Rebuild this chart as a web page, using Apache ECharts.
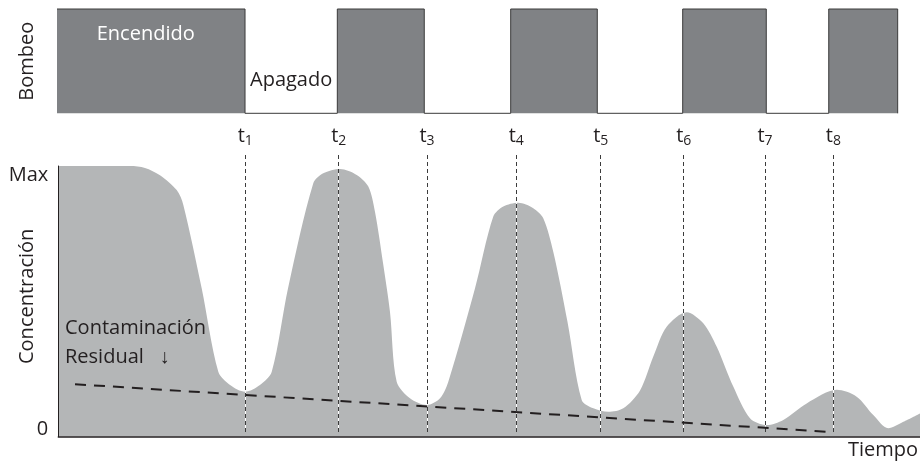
<!DOCTYPE html>
<html><head><meta charset="utf-8">
<script src="https://cdn.jsdelivr.net/npm/echarts@6/dist/echarts.min.js"></script>
<style>html,body{margin:0;padding:0;background:#fff}#c{width:920px;height:462px}</style>
</head><body><div id="c"></div>
<script>
// ---- data (time in arbitrary units 0..100, concentration 0..100 = Max) ----
const pumpOnStart = [-0.46, 32.38, 52.50, 72.46, 89.41];
const pumpOnEnd   = [21.67, 42.47, 62.55, 82.16, 97.41];
const tNames = ['1', '2', '3', '4', '5', '6', '7', '8'];
const tTimes = [21.70, 32.54, 42.79, 53.15, 62.95, 72.58, 82.01, 89.94];
const concTime = [0, 4.84, 8.32, 10.06, 11.80, 13.74, 14.51, 16.64, 18.57, 19.93, 21.67, 23.40, 24.77, 26.66,
  29.59, 30.75, 32.70, 34.63, 35.98, 36.75, 37.72, 38.49, 39.27, 40.81, 42.75, 44.30, 45.26, 48.36,
  50.48, 51.64, 53.38, 55.12, 56.28, 57.44, 59.09, 60.74, 62.09, 63.83, 65.57, 67.51, 69.05, 70.60,
  72.92, 74.85, 76.41, 78.33, 80.27, 82.21, 84.14, 86.85, 90.33, 92.65, 94.58, 96.32, 98.06, 100];
const concValue = [100, 100, 100, 99.3, 96.6, 91.1, 85.6, 54.8, 24.0, 19.1, 16.6, 19.1, 24.0, 54.8,
  93.6, 97.3, 98.9, 96.7, 92.4, 83.1, 63.4, 46.2, 20.3, 14.2, 11.7, 14.2, 20.3, 54.8,
  81.3, 85.0, 86.4, 84.4, 80.7, 68.3, 42.5, 13.6, 10.5, 9.2, 10.5, 17.1, 29.6, 40.6,
  46.0, 41.9, 33.2, 18.5, 6.8, 4.3, 6.2, 12.3, 17.3, 14.8, 8.0, 3.1, 5.5, 8.6];
const residualTime = [1.94, 89.36];
const residualValue = [19.4, 1.8];
const yTickLabels = {0: '0', 100: 'Max'};

// ---- build ----
const FONT = "'Open Sans', 'Noto Sans', sans-serif";
const INK = '#231f20';
const pumpData = [];
for (let i = 0; i < pumpOnStart.length; i++) {
  pumpData.push([pumpOnStart[i], 0], [pumpOnStart[i], 1], [pumpOnEnd[i], 1], [pumpOnEnd[i], 0]);
}
const concData = concTime.map((t, i) => [t, concValue[i]]);
const resData = residualTime.map((t, i) => [t, residualValue[i]]);
const tLines = tTimes.map((t, i) => ({ xAxis: t, name: tNames[i] }));

const chart = echarts.init(document.getElementById('c'), null, { renderer: 'canvas' });
chart.setOption({
  animation: false,
  backgroundColor: '#fff',
  textStyle: { fontFamily: FONT },
  grid: [
    { left: 58.3, right: 0, top: 9, height: 104.3, outerBoundsMode: 'none', containLabel: false },
    { left: 58.3, right: 0, top: 166, height: 270.7, outerBoundsMode: 'none', containLabel: false },
    { left: 58.3, right: 0, top: 155, height: 277, outerBoundsMode: 'none', containLabel: false }
  ],
  xAxis: [
    { gridIndex: 0, type: 'value', min: 0, max: 100, show: false },
    { gridIndex: 1, type: 'value', min: 0, max: 100, z: 5,
      axisLine: { show: true, onZero: false, lineStyle: { color: INK, width: 1.5 } },
      axisTick: { show: false }, axisLabel: { show: false }, splitLine: { show: false },
      name: 'Tiempo', nameLocation: 'end', nameGap: -2, nameMoveOverlap: false,
      nameTextStyle: { fontFamily: FONT, fontSize: 20, color: INK, align: 'right', verticalAlign: 'top', padding: [4, 0, 0, 0] } },
    { gridIndex: 2, type: 'value', min: 0, max: 100, show: false }
  ],
  yAxis: [
    { gridIndex: 0, type: 'value', min: 0, max: 1,
      axisLine: { show: false }, axisTick: { show: false }, axisLabel: { show: false }, splitLine: { show: false },
      name: 'Bombeo', nameLocation: 'middle', nameRotate: 90, nameGap: 21, nameMoveOverlap: false,
      nameTextStyle: { fontFamily: FONT, fontSize: 20, color: INK } },
    { gridIndex: 1, type: 'value', min: 0, max: 100, interval: 100, z: 5,
      axisLine: { show: true, lineStyle: { color: INK, width: 1 } },
      axisTick: { show: false }, splitLine: { show: false },
      axisLabel: {
        margin: 10,
        formatter: v => v === 0 ? '{z|' + yTickLabels[0] + '}' : '{m|' + yTickLabels[100] + '}',
        rich: {
          z: { fontFamily: FONT, fontSize: 20, color: INK, padding: [0, 0, 15, 0] },
          m: { fontFamily: FONT, fontSize: 20, color: INK, padding: [19, 0, 0, 0] }
        }
      },
      name: 'Concentración', nameLocation: 'middle', nameRotate: 90, nameGap: 21, nameMoveOverlap: false,
      nameTextStyle: { fontFamily: FONT, fontSize: 20, color: INK, padding: [0, 0, 0, 10] } },
    { gridIndex: 2, type: 'value', min: 0, max: 1, show: false }
  ],
  series: [
    { type: 'line', name: 'Bombeo', xAxisIndex: 0, yAxisIndex: 0, data: pumpData, clip: false,
      symbol: 'none', lineStyle: { color: '#3a3a3a', width: 1 },
      areaStyle: { color: '#808285', opacity: 1 }, z: 2 },
    { type: 'line', name: 'Concentración', xAxisIndex: 1, yAxisIndex: 1, data: concData,
      symbol: 'none', smooth: 0.3, lineStyle: { width: 0 },
      areaStyle: { color: '#b4b6b7', opacity: 1 }, z: 2 },
    { type: 'line', name: 'lineasBlancas', xAxisIndex: 2, yAxisIndex: 2, data: [], z: 3,
      markLine: { silent: true, symbol: ['none', 'none'], animation: false,
        lineStyle: { color: '#ffffff', width: 1, type: 'solid' }, label: { show: false },
        data: tLines } },
    { type: 'line', name: 'tiempos', xAxisIndex: 2, yAxisIndex: 2, data: [], z: 4,
      markLine: { silent: true, symbol: ['none', 'none'], animation: false,
        lineStyle: { color: '#3c3c3c', width: 1, type: [4, 3] },
        label: { show: true, position: 'end', distance: 7,
          formatter: p => 't{s|' + p.name + '}',
          fontFamily: FONT, fontSize: 20, lineHeight: 24, color: INK,
          rich: { s: { fontFamily: FONT, fontSize: 14, lineHeight: 17, verticalAlign: 'bottom', color: INK } } },
        data: tLines } },
    { type: 'line', name: 'Contaminación residual', xAxisIndex: 1, yAxisIndex: 1, data: resData, z: 6,
      symbol: 'none', lineStyle: { color: INK, width: 2, type: [11, 8] } }
  ],
  graphic: [
    { type: 'text', x: 96.7, y: 34, z: 10, style: { text: 'Encendido', fill: '#ffffff', fontFamily: FONT, fontSize: 20, align: 'left', verticalAlign: 'middle' } },
    { type: 'text', x: 250, y: 80.5, z: 10, style: { text: 'Apagado', fill: INK, fontFamily: FONT, fontSize: 20, align: 'left', verticalAlign: 'middle' } },
    { type: 'text', x: 65, y: 328.5, z: 10, style: { text: 'Contaminación', fill: INK, fontFamily: FONT, fontSize: 20, align: 'left', verticalAlign: 'middle' } },
    { type: 'text', x: 65, y: 357.3, z: 10, style: { text: 'Residual   ↓', fill: INK, fontFamily: FONT, fontSize: 20, align: 'left', verticalAlign: 'middle' } }
  ]
});
</script>
</body></html>
